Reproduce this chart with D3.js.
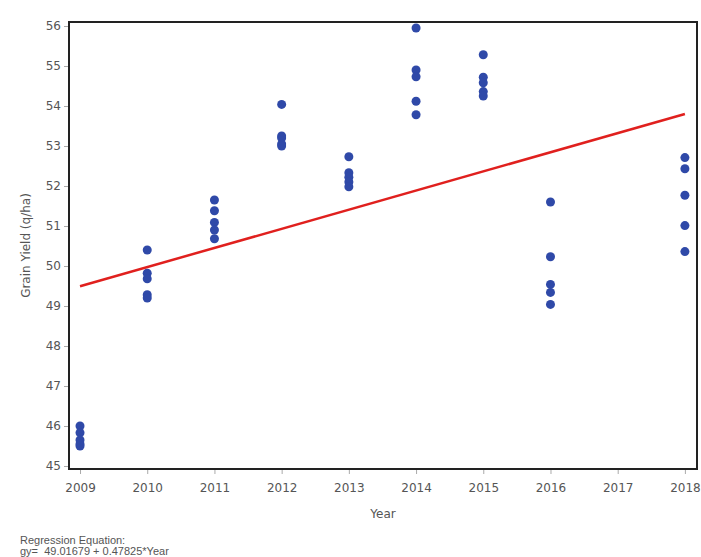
<!DOCTYPE html>
<html><head><meta charset="utf-8">
<script src="https://cdn.jsdelivr.net/npm/d3@7"></script>
<style>body{margin:0;background:#fff;} svg{display:block;} text{font-family:"DejaVu Sans",Verdana,sans-serif;} .eq{font-family:"Liberation Sans",Arial,sans-serif;white-space:pre;}</style>
</head><body>
<svg id="c" width="701" height="557"></svg>
<script>
const years = [2009, 2010, 2011, 2012, 2013, 2014, 2015, 2016, 2018];
const yields2009 = [46.0, 45.83, 45.65, 45.55, 45.5];
const yields2010 = [50.4, 49.82, 49.68, 49.28, 49.2];
const yields2011 = [51.65, 51.38, 51.09, 50.9, 50.68];
const yields2012 = [54.04, 53.25, 53.2, 53.05, 53.0];
const yields2013 = [52.73, 52.33, 52.22, 52.1, 51.98];
const yields2014 = [55.95, 54.9, 54.73, 54.12, 53.78];
const yields2015 = [55.28, 54.72, 54.58, 54.36, 54.25];
const yields2016 = [51.6, 50.23, 49.54, 49.34, 49.04];
const yields2018 = [52.71, 52.43, 51.77, 51.01, 50.36];
const yieldSets = [yields2009, yields2010, yields2011, yields2012, yields2013, yields2014, yields2015, yields2016, yields2018];
const xTicks = [2009, 2010, 2011, 2012, 2013, 2014, 2015, 2016, 2017, 2018];
const yTicks = [45, 46, 47, 48, 49, 50, 51, 52, 53, 54, 55, 56];
const intercept = 49.01679, slope = 0.47825; // Year coded 1..10 (2009..2018)
const lineYears = [2009, 2018];
const eqLines = ["Regression Equation:", "gy=  49.01679 + 0.47825*Year"];

const svg = d3.select("#c");
const L = 69, R = 697, T = 22, B = 469;
const x = d3.scaleLinear().domain([2008.836, 2018.18]).range([L, R]);
const y = d3.scaleLinear().domain([44.925, 56.1]).range([B, T]);

const pts = [];
years.forEach((yr, i) => yieldSets[i].forEach(v => pts.push({yr, v})));

// axes
const xAxis = d3.axisBottom(x).tickValues(xTicks).tickFormat(d3.format("d")).tickSize(5).tickPadding(9).tickSizeOuter(0);
const yAxis = d3.axisLeft(y).tickValues(yTicks).tickFormat(d3.format("d")).tickSize(5).tickPadding(3).tickSizeOuter(0);
const gx = svg.append("g").attr("transform", `translate(0,${B})`).call(xAxis);
const gy = svg.append("g").attr("transform", `translate(${L},0)`).call(yAxis);
[gx, gy].forEach(g => {
  g.select(".domain").remove();
  g.selectAll(".tick line").attr("stroke", "#aaa");
  g.selectAll(".tick text").attr("fill", "#555").style("font-size", "12px").style("font-family", '"DejaVu Sans",Verdana,sans-serif');
});

// points
svg.append("g").selectAll("circle").data(pts).join("circle")
  .attr("cx", d => x(d.yr)).attr("cy", d => y(d.v)).attr("r", 4.5)
  .attr("fill", "#2f49a8");

// regression line
const fit = yr => intercept + slope * (yr - 2008);
svg.append("path")
  .attr("d", d3.line().x(d => x(d)).y(d => y(fit(d)))(lineYears))
  .attr("stroke", "#e0201e").attr("stroke-width", 2.5).attr("fill", "none");

// frame
svg.append("rect").attr("x", L).attr("y", T).attr("width", R - L).attr("height", B - T)
  .attr("fill", "none").attr("stroke", "#222").attr("stroke-width", 2);

// axis labels
svg.append("text").attr("x", (L + R) / 2).attr("y", 518).attr("text-anchor", "middle")
  .attr("fill", "#555").style("font-size", "12px").text("Year");
svg.append("text").attr("transform", `translate(30,${(T + B) / 2}) rotate(-90)`)
  .attr("text-anchor", "middle").attr("fill", "#555").style("font-size", "12px").text("Grain Yield (q/ha)");

// equation
svg.append("g").selectAll("text").data(eqLines).join("text")
  .attr("class", "eq")
  .attr("x", 20).attr("y", (d, i) => 544 + i * 11)
  .attr("fill", "#555").style("font-size", "11px").text(d => d);
</script>
</body></html>
